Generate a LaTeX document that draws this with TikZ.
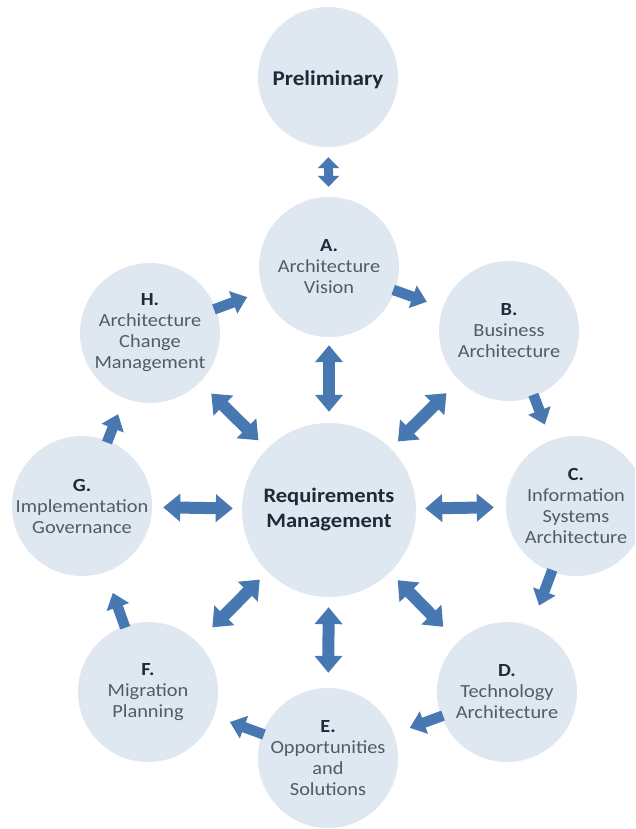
\documentclass[tikz,border=0pt]{standalone}
\usepackage{fontspec}
\setmainfont[FakeStretch=1.1]{Carlito}
\usetikzlibrary{arrows.meta}
\definecolor{circfill}{RGB}{223,231,241}
\definecolor{arrblue}{RGB}{72,120,178}
\definecolor{txtgrey}{RGB}{80,92,106}
\definecolor{txtdark}{RGB}{30,42,58}
\newcommand\phasettl[1]{\textcolor{txtdark}{\textbf{#1}}}
\begin{document}
\begin{tikzpicture}[x=1pt,y=-1pt,
  phase/.style={circle,fill=circfill,minimum size=140pt,inner sep=0pt},
  hub/.style={circle,fill=circfill,minimum size=174pt,inner sep=0pt},
  lbl/.style={align=center,font=\fontsize{18.5}{21}\selectfont,text=txtgrey},
  boldlbl/.style={align=center,font=\fontsize{21}{25}\selectfont\bfseries,text=txtdark},
  cyc/.style={color=arrblue,line width=10.5pt,-{Triangle[length=15pt,width=23pt]},shorten <=-2pt,shorten >=17pt},
  both/.style={color=arrblue,line width=12pt,{Triangle[length=17pt,width=27pt]}-{Triangle[length=17pt,width=27pt]}},
  small/.style={color=arrblue,line width=9pt,{Triangle[length=11pt,width=21pt]}-{Triangle[length=11pt,width=21pt]}}
]
\useasboundingbox (0,0) rectangle (635,829);
\clip (0,0) rectangle (635,829);

\node[phase,label={[boldlbl,yshift=-3pt]center:{Preliminary}}] (P) at (328,77) {};
\node[phase,label={[lbl]center:{\phasettl{A.}\\Architecture\\Vision}}] (A) at (329,267) {};
\node[phase,label={[lbl]center:{\phasettl{B.}\\Business\\Architecture}}] (B) at (509,331) {};
\node[phase,label={[lbl]center:{\phasettl{C.}\\Information\\Systems\\Architecture}}] (C) at (576,506) {};
\node[phase,label={[lbl]center:{\phasettl{D.}\\Technology\\Architecture}}] (D) at (507,692) {};
\node[phase,label={[lbl]center:{\phasettl{E.}\\Opportunities\\and\\Solutions}}] (E) at (328,758) {};
\node[phase,label={[lbl]center:{\phasettl{F.}\\Migration\\Planning}}] (F) at (148,692) {};
\node[phase,label={[lbl]center:{\phasettl{G.}\\Implementation\\Governance}}] (G) at (82,506) {};
\node[phase,label={[lbl]center:{\phasettl{H.}\\Architecture\\Change\\Management}}] (H) at (150,333) {};
\node[hub,label={[boldlbl,font=\fontsize{20.5}{25}\selectfont\bfseries]center:{Requirements\\Management}}] (M) at (329,510) {};

% cycle arrows
\draw[cyc] (H) -- (A);
\draw[cyc] (A) -- (B);
\draw[cyc] (B) -- (C);
\draw[cyc,shorten >=22pt] (C) -- (D);
\draw[cyc] (D) -- (E);
\draw[cyc] (E) -- (F);
\draw[cyc,shorten >=22pt] (F) -- (G);
\draw[cyc] (G) -- (H);

% preliminary
\draw[small,shorten <=10pt,shorten >=10pt] (P) -- (A);

% hub arrows
\draw[both,shorten <=8pt,shorten >=11pt] (A) -- (M);
\draw[both,shorten <=10pt,shorten >=15pt] (M) -- (E);
\draw[both,shorten <=11pt,shorten >=9pt] (G) -- (M);
\draw[both,shorten <=9pt,shorten >=12pt] (M) -- (C);
\draw[both,shorten <=16pt,shorten >=12pt] (H) -- (M);
\draw[both,shorten <=18pt,shorten >=10pt] (B) -- (M);
\draw[both,shorten <=11pt,shorten >=21pt] (M) -- (F);
\draw[both,shorten <=11pt,shorten >=21pt] (M) -- (D);
\end{tikzpicture}
\end{document}
